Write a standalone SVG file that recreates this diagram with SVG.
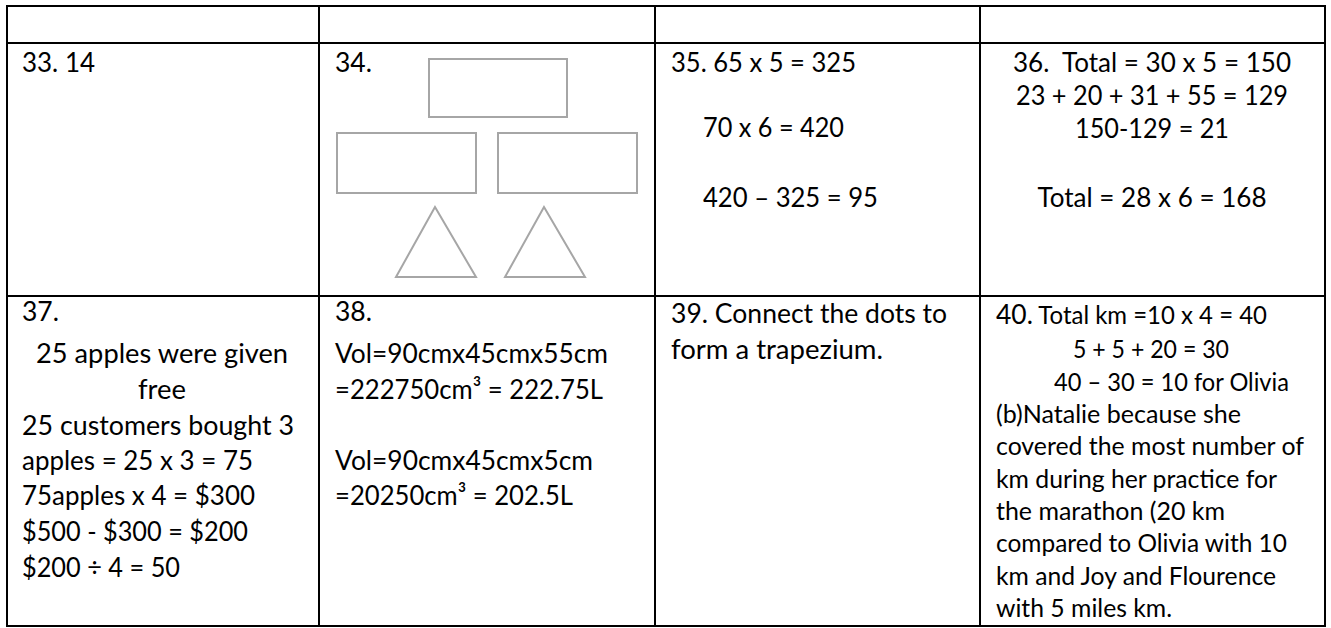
<svg xmlns="http://www.w3.org/2000/svg" width="1331" height="628" viewBox="0 0 1331 628">
<style>
.t{font-family:Lato,"Liberation Sans",sans-serif;font-size:27px;fill:#000}
.s{font-family:Lato,"Liberation Sans",sans-serif;font-size:24.5px;fill:#000}
.m{text-anchor:middle}
.shape{fill:none;stroke:#a6a6a6;stroke-width:2}
.grid{stroke:#000;stroke-width:2;fill:none}
</style>
<rect width="1331" height="628" fill="#fff"/>
<g id="grid" class="grid">
<rect x="7" y="6" width="1318" height="620"/>
<line x1="7" y1="43" x2="1325" y2="43"/>
<line x1="7" y1="296" x2="1325" y2="296"/>
<line x1="319" y1="6" x2="319" y2="626"/>
<line x1="655" y1="6" x2="655" y2="626"/>
<line x1="980" y1="6" x2="980" y2="626"/>
</g>
<g id="c33">
<text class="t" x="22" y="72" textLength="73" lengthAdjust="spacingAndGlyphs">33. 14</text>
</g>
<g id="c34">
<text class="t" x="335" y="72" textLength="37" lengthAdjust="spacingAndGlyphs">34.</text>
<rect class="shape" x="429" y="59" width="138" height="58"/>
<rect class="shape" x="337" y="133" width="139" height="60"/>
<rect class="shape" x="498" y="133" width="139" height="60"/>
<polygon class="shape" points="435,207 396,277 476,277"/>
<polygon class="shape" points="544,207 505,277 585,277"/>
</g>
<g id="c35">
<text class="t" x="671" y="72" textLength="185" lengthAdjust="spacingAndGlyphs">35. 65 x 5 = 325</text>
<text class="t" x="703" y="137" textLength="141" lengthAdjust="spacingAndGlyphs">70 x 6 = 420</text>
<text class="t" x="703" y="207" textLength="175" lengthAdjust="spacingAndGlyphs">420 – 325 = 95</text>
</g>
<g id="c36">
<text class="t m" x="1152" y="72" xml:space="preserve" textLength="278" lengthAdjust="spacingAndGlyphs">36.  Total = 30 x 5 = 150</text>
<text class="t m" x="1152" y="105" textLength="272" lengthAdjust="spacingAndGlyphs">23 + 20 + 31 + 55 = 129</text>
<text class="t m" x="1152" y="138" textLength="154" lengthAdjust="spacingAndGlyphs">150-129 = 21</text>
<text class="t m" x="1152" y="207" textLength="229" lengthAdjust="spacingAndGlyphs">Total = 28 x 6 = 168</text>
</g>
<g id="c37">
<text class="t" x="22" y="321" textLength="37" lengthAdjust="spacingAndGlyphs">37.</text>
<text class="t m" x="162" y="363" textLength="252" lengthAdjust="spacingAndGlyphs">25 apples were given</text>
<text class="t m" x="162" y="399" textLength="48" lengthAdjust="spacingAndGlyphs">free</text>
<text class="t" x="22" y="435" textLength="272" lengthAdjust="spacingAndGlyphs">25 customers bought 3</text>
<text class="t" x="22" y="470" textLength="231" lengthAdjust="spacingAndGlyphs">apples = 25 x 3 = 75</text>
<text class="t" x="22" y="505" textLength="233" lengthAdjust="spacingAndGlyphs">75apples x 4 = $300</text>
<text class="t" x="22" y="541" textLength="226" lengthAdjust="spacingAndGlyphs">$500 - $300 = $200</text>
<text class="t" x="22" y="577" textLength="158" lengthAdjust="spacingAndGlyphs">$200 ÷ 4 = 50</text>
</g>
<g id="c38">
<text class="t" x="335" y="321" textLength="37" lengthAdjust="spacingAndGlyphs">38.</text>
<text class="t" x="335" y="363" textLength="273" lengthAdjust="spacingAndGlyphs">Vol=90cmx45cmx55cm</text>
<text class="t" x="335" y="399" textLength="268" lengthAdjust="spacingAndGlyphs">=222750cm³ = 222.75L</text>
<text class="t" x="335" y="470" textLength="258" lengthAdjust="spacingAndGlyphs">Vol=90cmx45cmx5cm</text>
<text class="t" x="335" y="505" textLength="238" lengthAdjust="spacingAndGlyphs">=20250cm³ = 202.5L</text>
</g>
<g id="c39">
<text class="t" x="671" y="323" textLength="276" lengthAdjust="spacingAndGlyphs">39. Connect the dots to</text>
<text class="t" x="671" y="359" textLength="212" lengthAdjust="spacingAndGlyphs">form a trapezium.</text>
</g>
<g id="c40">
<text class="t" x="996" y="324" textLength="271" lengthAdjust="spacingAndGlyphs">40.<tspan class="s"> Total km =10 x 4 = 40</tspan></text>
<text class="s" x="1073" y="358" textLength="156" lengthAdjust="spacingAndGlyphs">5 + 5 + 20 = 30</text>
<text class="s" x="1054" y="391" textLength="235" lengthAdjust="spacingAndGlyphs">40 – 30 = 10 for Olivia</text>
<text class="s" x="996" y="423" textLength="245" lengthAdjust="spacingAndGlyphs">(b)Natalie because she</text>
<text class="s" x="996" y="455" textLength="308" lengthAdjust="spacingAndGlyphs">covered the most number of</text>
<text class="s" x="996" y="488" textLength="281" lengthAdjust="spacingAndGlyphs">km during her practice for</text>
<text class="s" x="996" y="520" textLength="229" lengthAdjust="spacingAndGlyphs">the marathon (20 km</text>
<text class="s" x="996" y="552" textLength="291" lengthAdjust="spacingAndGlyphs">compared to Olivia with 10</text>
<text class="s" x="996" y="585" textLength="280" lengthAdjust="spacingAndGlyphs">km and Joy and Flourence</text>
<text class="s" x="996" y="617" textLength="176" lengthAdjust="spacingAndGlyphs">with 5 miles km.</text>
</g>
</svg>
